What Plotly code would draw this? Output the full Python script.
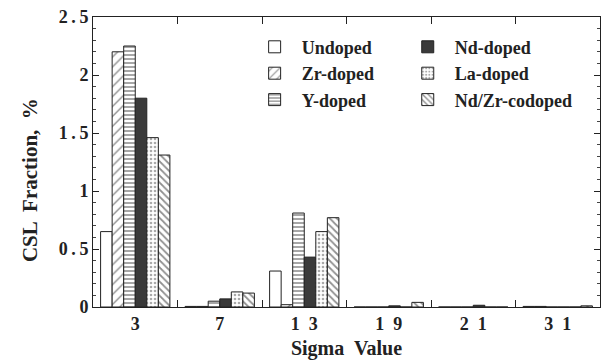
import plotly.graph_objects as go

categories = ["3", "7", "13", "19", "21", "31"]
undoped = [0.65, 0.005, 0.31, 0.0, 0.0, 0.005]
zr_doped = [2.20, 0.005, 0.02, 0.0, 0.0, 0.005]
y_doped = [2.25, 0.05, 0.81, 0.0, 0.0, 0.0]
nd_doped = [1.80, 0.07, 0.43, 0.01, 0.015, 0.0]
la_doped = [1.46, 0.13, 0.65, 0.0, 0.0, 0.0]
ndzr_codoped = [1.31, 0.12, 0.77, 0.04, 0.0, 0.01]
y_ticks = [0, 0.5, 1, 1.5, 2, 2.5]

series = [
    ("Undoped", undoped, dict(color="white"), "legend"),
    ("Zr-doped", zr_doped, dict(color="white", pattern=dict(shape="/", size=7, solidity=0.2, fgcolor="#222")), "legend"),
    ("Y-doped", y_doped, dict(color="white", pattern=dict(shape="-", size=4, solidity=0.4, fgcolor="#222")), "legend"),
    ("Nd-doped", nd_doped, dict(color="#3a3a3a"), "legend2"),
    ("La-doped", la_doped, dict(color="white", pattern=dict(shape=".", size=4, solidity=0.35, fgcolor="#555")), "legend2"),
    ("Nd/Zr-codoped", ndzr_codoped, dict(color="white", pattern=dict(shape="\\", size=5, solidity=0.35, fgcolor="#222")), "legend2"),
]

fig = go.Figure()
for name, vals, marker, lg in series:
    marker = dict(marker)
    marker["line"] = dict(color="#222", width=1)
    fig.add_trace(go.Bar(x=categories, y=vals, name="<b>%s</b>" % name, marker=marker, legend=lg))

font_family = "Liberation Serif, Times New Roman, serif"
legend_common = dict(
    bgcolor="rgba(0,0,0,0)",
    font=dict(family=font_family, size=18, color="#222"),
    tracegroupgap=0,
    itemwidth=44,
    yanchor="top",
    xanchor="left",
)


def spaced(s, sep):
    return sep.join(list(s))


fig.update_layout(
    width=602,
    height=363,
    margin=dict(l=93, r=2, t=17, b=56),
    paper_bgcolor="white",
    plot_bgcolor="white",
    barmode="group",
    bargap=0.18,
    bargroupgap=0,
    font=dict(family=font_family, color="#222"),
    legend=dict(x=0.305, y=0.96, **legend_common),
    legend2=dict(x=0.607, y=0.96, **legend_common),
    xaxis=dict(
        type="category",
        tickvals=categories,
        ticktext=["<b>%s</b>" % spaced(c, "\u2002") for c in categories],
        showline=True, linecolor="#222", linewidth=1, mirror="ticks",
        ticks="inside", ticklen=7, tickcolor="#222", tickson="boundaries",
        tickfont=dict(family=font_family, size=18, color="#222"),
        title=dict(text="<b>Sigma  Value</b>", font=dict(family=font_family, size=20, color="#222"), standoff=8),
        showgrid=False,
    ),
    yaxis=dict(
        range=[0, 2.5],
        tickvals=y_ticks,
        ticktext=["<b>%s</b>" % spaced(("%g" % v), "\u2009") for v in y_ticks],
        showline=True, linecolor="#222", linewidth=1, mirror="ticks",
        ticks="inside", ticklen=6, tickcolor="#222",
        minor=dict(dtick=0.1, ticks="inside", ticklen=3, tickcolor="#444", showgrid=False),
        tickfont=dict(family=font_family, size=18, color="#222"),
        showgrid=False, zeroline=False,
    ),
    annotations=[dict(
        text="<b>CSL  Fraction,  %</b>", textangle=-90,
        xref="paper", yref="paper", x=-0.124, y=0.438,
        xanchor="center", yanchor="middle", showarrow=False,
        font=dict(family=font_family, size=21, color="#222"),
    )],
)

fig.write_html("out.html")
